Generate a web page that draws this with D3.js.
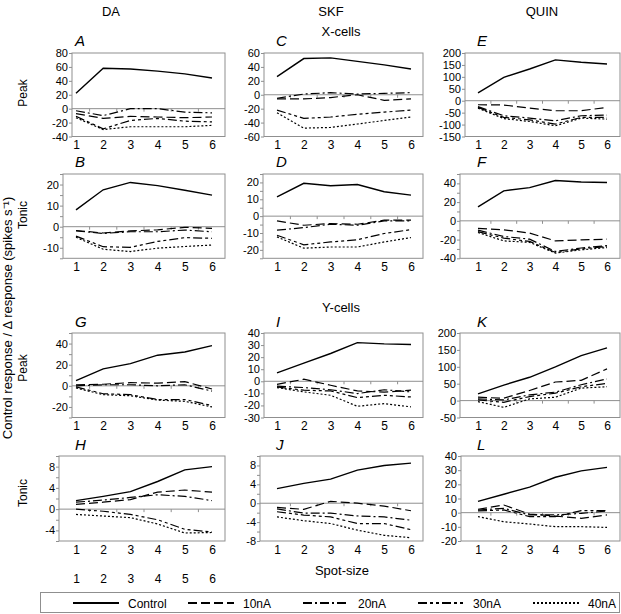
<!DOCTYPE html>
<html>
<head>
<meta charset="utf-8">
<script src="https://cdn.jsdelivr.net/npm/d3@7"></script>
<style>
body { margin: 0; background: #fff; }
svg { font-family: "Liberation Sans", Arial, sans-serif; }
</style>
</head>
<body>
<main></main>
<script>
const spots = [1, 2, 3, 4, 5, 6];
const series = ['Control', '10nA', '20nA', '30nA', '40nA'];
const drugs = ['DA', 'SKF', 'QUIN'];
const cellTypes = ['X-cells', 'Y-cells'];
const measures = ['Peak', 'Tonic', 'Peak', 'Tonic'];

// each panel: rows are Control, 10nA, 20nA, 30nA, 40nA over spot sizes 1..6
const peakDaX = [
    [22, 58, 57, 54, 50, 44],
    [-7, -14, -11, -12, -13, -12],
    [-3, -10, 0, 0, -5, -6],
    [-11, -29, -17, -14, -18, -19],
    [-13, -30, -26, -26, -26, -24]];
const tonicDaX = [
    [8, 17.5, 21, 19.5, 17.3, 15],
    [-1.8, -3, -2, -1.5, -0.3, -0.8],
    [-2, -3.2, -2.4, -2.4, -1.6, -2.4],
    [-4.5, -9.5, -9.8, -7, -5.2, -5.5],
    [-5, -10.7, -11.8, -10.2, -9.4, -8.7]];
const peakSkfX = [
    [26, 52, 53, 48, 43, 37],
    [-6, -6, -4, 0, -8, -6],
    [-5, 1, 3, 1, 2, 3],
    [-22, -34, -32, -28, -25, -22],
    [-26, -48, -47, -42, -37, -32]];
const tonicSkfX = [
    [11.5, 19.5, 18, 18.8, 14.5, 12.5],
    [-2.8, -5.4, -4.4, -4.8, -2.4, -2.4],
    [-8.3, -6.8, -4.8, -5.4, -2.8, -2.8],
    [-11.3, -17, -15.3, -14, -10.3, -8],
    [-12.3, -19, -18.3, -18.3, -15.3, -12.7]];
const peakQuinX = [
    [33, 98, 133, 171, 161, 154],
    [-17, -18, -31, -42, -42, -28],
    [-25, -63, -73, -84, -63, -60],
    [-28, -70, -80, -98, -70, -70],
    [-31, -75, -87, -105, -73, -77]];
const tonicQuinX = [
    [15, 32, 35.5, 43, 41.5, 41],
    [-8, -9.6, -13, -21.5, -20.3, -19.6],
    [-10, -16.7, -19.6, -32.7, -29, -26.5],
    [-11.5, -18.5, -22, -33.8, -30, -27.4],
    [-12.5, -21.4, -23, -34.5, -31, -28.5]];
const peakDaY = [
    [5, 16, 21, 29, 32, 38],
    [1, 1.5, 3, 2.5, 4, -3],
    [0, 1, 1, 0, 1, -5],
    [-1, -7.5, -8.4, -13, -13, -18.7],
    [-2, -8.4, -9.4, -13.5, -14.7, -20]];
const tonicDaY = [
    [1.6, 2.4, 3.3, 5.2, 7.4, 8],
    [0.9, 1.3, 1.8, 3.2, 3.6, 3.2],
    [1.3, 1.7, 2.2, 2.7, 2.4, 1.6],
    [0, -0.4, -1, -2, -3.8, -4.3],
    [-1, -1.3, -1.6, -2.8, -4.5, -4.4]];
const peakSkfY = [
    [7, 15, 23, 32, 31, 30.5],
    [-2.5, 1.7, -3.3, -8, -9, -7.4],
    [-4, -5.2, -7, -10.2, -7, -8.8],
    [-4.7, -7.4, -8, -13.5, -11.6, -13],
    [-5.2, -8.8, -11.6, -20.7, -18.5, -21.2]];
const tonicSkfY = [
    [3.1, 4.2, 5.1, 7, 8, 8.5],
    [-0.9, -1.3, 0.4, 0, -0.6, -1.6],
    [-1.2, -2.1, -2.1, -2.7, -2.9, -3.6],
    [-1.8, -2.5, -2.9, -4.3, -4.3, -5.6],
    [-2.9, -3.7, -4.3, -5.7, -6.8, -7.3]];
const peakQuinY = [
    [20, 46, 69, 100, 133, 156],
    [10, 7, 30, 55, 60, 94],
    [5, 2, 17, 25, 47, 64],
    [2, -5, 12, 22, 41, 51],
    [-3, -20, 5, 10, 37, 41]];
const tonicQuinY = [
    [8, 13, 18, 25, 29.5, 32],
    [2.4, 5.4, -1, -2.4, -4, -1.6],
    [1.9, 3, -1.6, -1.6, -0.5, 1.2],
    [1.2, 1.9, -2.8, -2.8, 1.4, 1.4],
    [-2.8, -6.4, -8, -9.9, -9.9, -10.4]];

const panels = [
    {key: 'A', data: peakDaX, col: 0, row: 0, left: 72, domain: [-40, 80],
        ticks: [-40, -20, 0, 20, 40, 60, 80], labels: [-40, -20, 0, 20, 40, 60, 80]},
    {key: 'B', data: tonicDaX, col: 0, row: 1, left: 63, domain: [-15, 25],
        ticks: [-15, -10, -5, 0, 5, 10, 15, 20, 25], labels: [-10, 0, 10, 20]},
    {key: 'C', data: peakSkfX, col: 1, row: 0, left: 264, domain: [-60, 60],
        ticks: [-60, -40, -20, 0, 20, 40, 60], labels: [-60, -40, -20, 0, 20, 40, 60]},
    {key: 'D', data: tonicSkfX, col: 1, row: 1, left: 263, domain: [-25, 25],
        ticks: [-25, -20, -15, -10, -5, 0, 5, 10, 15, 20, 25], labels: [-20, -10, 0, 10, 20]},
    {key: 'E', data: peakQuinX, col: 2, row: 0, left: 465, domain: [-150, 200],
        ticks: [-150, -100, -50, 0, 50, 100, 150, 200], labels: [-150, -100, -50, 0, 50, 100, 150, 200]},
    {key: 'F', data: tonicQuinX, col: 2, row: 1, left: 460, domain: [-40, 50],
        ticks: [-40, -30, -20, -10, 0, 10, 20, 30, 40, 50], labels: [-40, -20, 0, 20, 40]},
    {key: 'G', data: peakDaY, col: 0, row: 2, left: 72, domain: [-30, 50],
        ticks: [-30, -20, -10, 0, 10, 20, 30, 40, 50], labels: [-20, 0, 20, 40]},
    {key: 'H', data: tonicDaY, col: 0, row: 3, left: 59, domain: [-6, 10],
        ticks: [-6, -4, -2, 0, 2, 4, 6, 8, 10], labels: [-4, 0, 4, 8]},
    {key: 'I', data: peakSkfY, col: 1, row: 2, left: 264, domain: [-30, 40],
        ticks: [-30, -20, -10, 0, 10, 20, 30, 40], labels: [-30, -20, -10, 0, 10, 20, 30, 40]},
    {key: 'J', data: tonicSkfY, col: 1, row: 3, left: 260, domain: [-8, 10],
        ticks: [-8, -6, -4, -2, 0, 2, 4, 6, 8, 10], labels: [-8, -4, 0, 4, 8]},
    {key: 'K', data: peakQuinY, col: 2, row: 2, left: 460, domain: [-50, 200],
        ticks: [-50, 0, 50, 100, 150, 200], labels: [-50, 0, 50, 100, 150, 200]},
    {key: 'L', data: tonicQuinY, col: 2, row: 3, left: 461, domain: [-20, 40],
        ticks: [-20, -10, 0, 10, 20, 30, 40], labels: [-20, -10, 0, 10, 20, 30, 40]}
];

const colPoints = [[76, 212], [277, 411], [478, 607]];
const colRight = [225, 423, 620];
const colCenter = [111, 331, 542];
const rowTop = [53, 174, 333, 456];
const rowBottom = [136.5, 258.3, 417.5, 541];
const letterBase = [46, 167, 327, 450];
const rowLabelY = [93, 215, 368, 493];
const dashes = ['none', '9,4', '9,3,2,3', '9,3,3,3,3,3', '2,2'];
const widths = [1.4, 1.2, 1.2, 1.2, 1.2];
const boxColor = '#8f8f8f';

const svg = d3.select('main')
    .append('svg')
    .attr('width', 621)
    .attr('height', 614);

// column / section headers
drugs.forEach((d, i) => {
    svg.append('text')
        .attr('x', colCenter[i]).attr('y', 16)
        .attr('text-anchor', 'middle')
        .attr('font-size', 13)
        .text(d);
});
svg.append('text').attr('x', 341).attr('y', 36)
    .attr('text-anchor', 'middle').attr('font-size', 13).text(cellTypes[0]);
svg.append('text').attr('x', 341).attr('y', 312)
    .attr('text-anchor', 'middle').attr('font-size', 13).text(cellTypes[1]);

// y titles
svg.append('text')
    .attr('transform', 'translate(12, 318) rotate(-90)')
    .attr('text-anchor', 'middle')
    .attr('font-size', 13)
    .text('Control response / \u0394 response (spikes s\u207B\u00B9)');
measures.forEach((m, i) => {
    svg.append('text')
        .attr('transform', `translate(27, ${rowLabelY[i]}) rotate(-90)`)
        .attr('text-anchor', 'middle')
        .attr('font-size', 12)
        .text(m);
});

const line = (x, y) => d3.line()
    .x((d, i) => x(spots[i]))
    .y((d) => y(d));

panels.forEach((p) => {
    const top = rowTop[p.row], bottom = rowBottom[p.row];
    const right = colRight[p.col];
    const x = d3.scalePoint().domain(spots).range(colPoints[p.col]);
    const y = d3.scaleLinear().domain(p.domain).range([bottom, top]);
    const g = svg.append('g');

    g.append('rect')
        .attr('x', p.left).attr('y', top)
        .attr('width', right - p.left).attr('height', bottom - top)
        .attr('fill', 'none').attr('stroke', boxColor).attr('stroke-width', 1);

    // y axis
    const ya = g.append('g')
        .attr('transform', `translate(${p.left}, 0)`)
        .call(d3.axisLeft(y)
            .tickValues(p.ticks)
            .tickSize(3)
            .tickPadding(1)
            .tickFormat((d) => p.labels.includes(d) ? d : ''));
    ya.select('.domain').remove();
    ya.selectAll('line').attr('stroke', boxColor);
    ya.selectAll('text').attr('font-size', 11).attr('fill', '#000');

    // zero line with category ticks
    const step = x.step();
    g.append('line')
        .attr('x1', p.left).attr('x2', right)
        .attr('y1', y(0)).attr('y2', y(0))
        .attr('stroke', boxColor);
    g.selectAll('.ct')
        .data(spots.slice(0, -1))
        .enter()
        .append('line')
        .attr('x1', (d) => x(d) + step / 2)
        .attr('x2', (d) => x(d) + step / 2)
        .attr('y1', y(0)).attr('y2', y(0) + 3)
        .attr('stroke', boxColor);

    // x labels under the box
    const xa = g.append('g')
        .attr('transform', `translate(0, ${bottom})`)
        .call(d3.axisBottom(x).tickSize(0).tickPadding(4));
    xa.select('.domain').remove();
    xa.selectAll('text').attr('font-size', 12).attr('fill', '#000');

    if (p.key === 'H') {
        const xa2 = g.append('g')
            .attr('transform', `translate(0, ${bottom + 29})`)
            .call(d3.axisBottom(x).tickSize(0).tickPadding(4));
        xa2.select('.domain').remove();
        xa2.selectAll('text').attr('font-size', 12).attr('fill', '#000');
    }

    g.append('text')
        .attr('x', x(1) - 1).attr('y', letterBase[p.row])
        .attr('font-size', 15)
        .attr('font-style', 'italic')
        .text(p.key);

    p.data.forEach((vals, k) => {
        g.append('path')
            .datum(vals)
            .attr('d', line(x, y))
            .attr('fill', 'none')
            .attr('stroke', '#000')
            .attr('stroke-width', widths[k])
            .attr('stroke-dasharray', dashes[k]);
    });
});

svg.append('text')
    .attr('x', 342).attr('y', 575)
    .attr('text-anchor', 'middle')
    .attr('font-size', 13)
    .text('Spot-size');

// legend
const legend = svg.append('g');
legend.append('rect')
    .attr('x', 40.5).attr('y', 592.5)
    .attr('width', 579).attr('height', 20)
    .attr('fill', 'none').attr('stroke', boxColor);
series.forEach((s, k) => {
    const lx = 73 + k * 115;
    legend.append('line')
        .attr('x1', lx).attr('x2', lx + 46)
        .attr('y1', 603).attr('y2', 603)
        .attr('stroke', '#000')
        .attr('stroke-width', 2)
        .attr('stroke-dasharray', dashes[k]);
    legend.append('text')
        .attr('x', lx + 55).attr('y', 607.5)
        .attr('font-size', 12)
        .text(s);
});
</script>
</body>
</html>
